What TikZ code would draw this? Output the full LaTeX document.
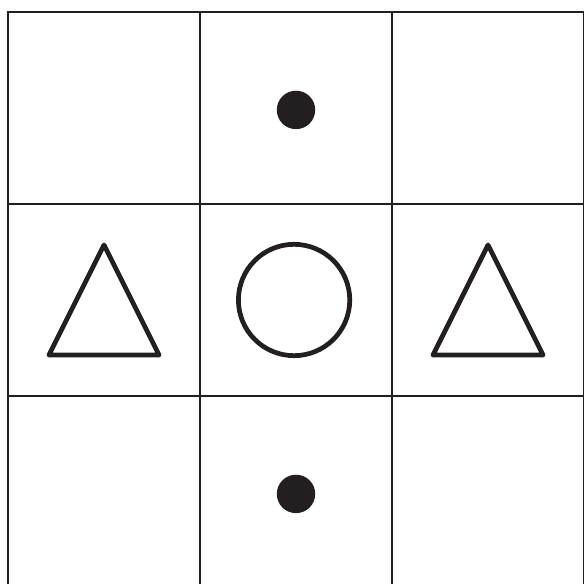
\documentclass[tikz,border=0pt]{standalone}
\usepackage{xcolor}
\usetikzlibrary{positioning}
\definecolor{ink}{RGB}{35, 31, 32}

\begin{document}
\begin{tikzpicture}[
    cell/.style={
        draw=ink,
        line width=1.1pt,
        minimum size=3cm,
        inner sep=0pt,
        outer sep=0pt
    },
    ring/.style={
        circle,
        draw=ink,
        line width=2.1pt,
        minimum size=1.74cm,
        inner sep=0pt
    },
    dot/.style={
        circle,
        fill=ink,
        minimum size=0.6cm,
        inner sep=0pt
    },
    tri/.style={draw=ink, line width=2.1pt, line join=round}
]

% === Frame ===
\useasboundingbox[fill=white] (-0.125,0.1875) rectangle (9.0,-8.9375);

% === Grid of cells ===
\node[cell, anchor=north west] (c11) at (0,0) {};
\node[cell, right=0pt of c11] (c12) {};
\node[cell, right=0pt of c12] (c13) {};
\node[cell, below=0pt of c11] (c21) {};
\node[cell, right=0pt of c21] (c22) {};
\node[cell, right=0pt of c22] (c23) {};
\node[cell, below=0pt of c21] (c31) {};
\node[cell, right=0pt of c31] (c32) {};
\node[cell, right=0pt of c32] (c33) {};

% === Dots ===
\node[dot, yshift=-0.03cm] (top) at (c12.center) {};
\node[dot, yshift=-0.03cm] (bottom) at (c32.center) {};

% === Middle row ===
\node[ring, xshift=-0.03cm] (mid) at (c22.center) {};
\draw[tri, shift={(c21.center)}] (0,0.86) -- (-0.86,-0.86) -- (0.86,-0.86) -- cycle;
\draw[tri, shift={(c23.center)}] (0,0.86) -- (-0.86,-0.86) -- (0.86,-0.86) -- cycle;

\end{tikzpicture}
\end{document}
